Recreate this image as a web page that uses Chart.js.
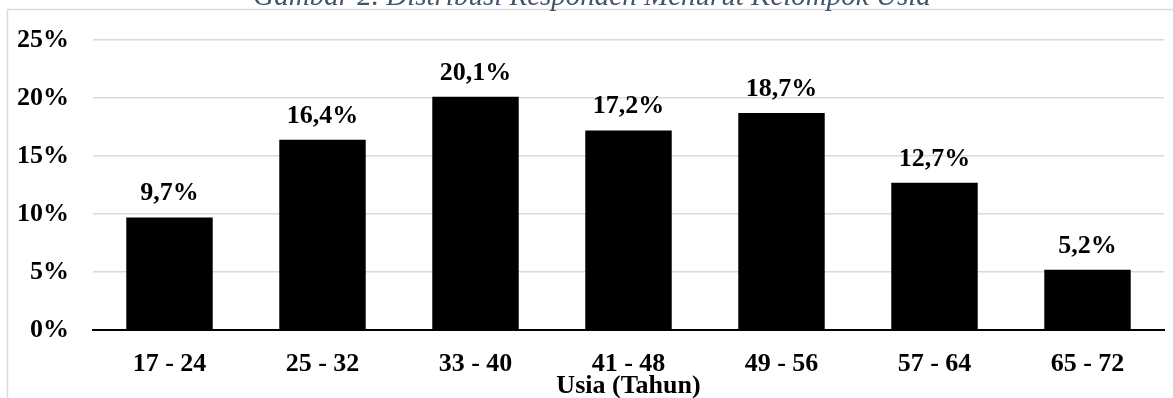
<!DOCTYPE html>
<html>
<head>
<meta charset="utf-8">
<script src="https://cdn.jsdelivr.net/npm/chart.js@4/dist/chart.umd.min.js"></script>
<style>
  html, body { margin: 0; padding: 0; background: #fff; }
  canvas { display: block; }
</style>
</head>
<body>
<canvas id="ageChart" width="1173" height="398"></canvas>
<script>
// data
const ageGroups = ['17 - 24', '25 - 32', '33 - 40', '41 - 48', '49 - 56', '57 - 64', '65 - 72'];
const sharePct = [9.7, 16.4, 20.1, 17.2, 18.7, 12.7, 5.2];
const yTicks = [0, 5, 10, 15, 20, 25];

const captionText = 'Gambar 2. Distribusi Responden Menurut Kelompok Usia';
const axisTitle = 'Usia (Tahun)';

const fmtPct = v => v.toFixed(1).replace('.', ',') + '%';

// frame + half-cut caption at the top of the picture
const framePlugin = {
  id: 'frame',
  beforeDraw(chart) {
    const c = chart.ctx;
    c.save();
    c.strokeStyle = '#d9d9d9';
    c.lineWidth = 1.5;
    c.beginPath();
    c.moveTo(7.5, chart.height + 5);
    c.lineTo(7.5, 9.5);
    c.lineTo(chart.width + 5, 9.5);
    c.stroke();
    c.font = 'italic 29px "Liberation Serif"';
    c.fillStyle = '#44546a';
    c.textAlign = 'center';
    c.textBaseline = 'alphabetic';
    c.fillText(captionText, 592, 5);
    c.restore();
  }
};

// value labels above each bar
const valueLabels = {
  id: 'valueLabels',
  afterDatasetsDraw(chart) {
    const c = chart.ctx;
    const meta = chart.getDatasetMeta(0);
    c.save();
    c.font = 'bold 26px "Liberation Serif"';
    c.fillStyle = '#000';
    c.textAlign = 'center';
    c.textBaseline = 'alphabetic';
    meta.data.forEach((bar, i) => {
      c.fillText(fmtPct(sharePct[i]), bar.x, bar.y - 17);
    });
    c.restore();
  }
};

new Chart(document.getElementById('ageChart'), {
  type: 'bar',
  data: {
    labels: ageGroups,
    datasets: [{
      data: sharePct,
      backgroundColor: '#000',
      borderWidth: 0,
      categoryPercentage: 1,
      barPercentage: 0.565
    }]
  },
  options: {
    responsive: false,
    animation: false,
    layout: { padding: { top: 40, right: 9, left: 0, bottom: 0 } },
    plugins: { legend: { display: false }, tooltip: { enabled: false } },
    scales: {
      x: {
        grid: { display: false, drawTicks: false },
        border: { display: true, color: '#000', width: 2 },
        ticks: {
          color: '#000',
          padding: 19,
          font: { family: 'Liberation Serif', size: 26, weight: 'bold' }
        },
        title: {
          display: true,
          text: axisTitle,
          color: '#000',
          padding: 0,
          font: { family: 'Liberation Serif', size: 26, weight: 'bold', lineHeight: 0.9 }
        },
        afterFit(scale) { scale.height = 68; }
      },
      y: {
        min: 0,
        max: 25,
        afterBuildTicks(scale) { scale.ticks = yTicks.map(v => ({ value: v })); },
        grid: {
          drawTicks: false,
          lineWidth: 1.5,
          color: ctx => ctx.tick && ctx.tick.value === 0 ? '#000' : '#d9d9d9'
        },
        border: { display: false },
        ticks: {
          color: '#000',
          padding: 24,
          font: { family: 'Liberation Serif', size: 26, weight: 'bold' },
          callback: v => v + '%'
        },
        afterFit(scale) { scale.width = 93; }
      }
    }
  },
  plugins: [framePlugin, valueLabels]
});
</script>
</body>
</html>
